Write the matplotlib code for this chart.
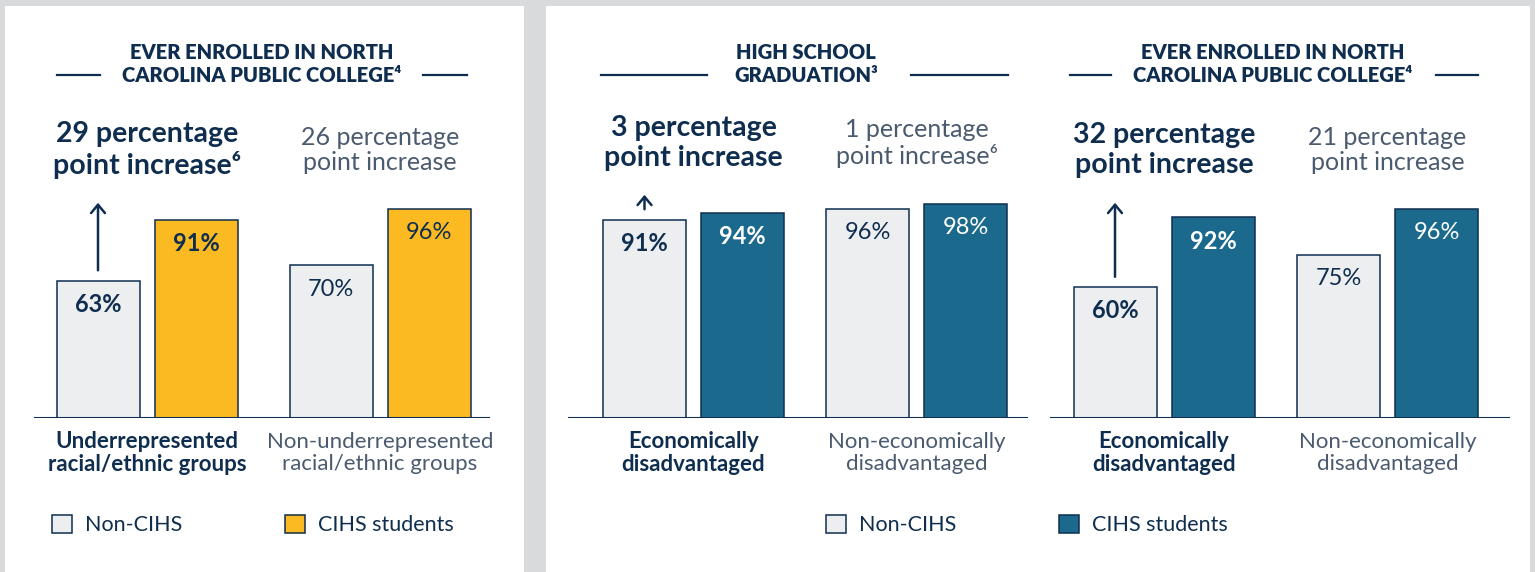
import numpy as np
import matplotlib.pyplot as plt
from matplotlib.patches import Rectangle, Patch
from matplotlib.lines import Line2D

# ---- data ----
race_groups = ['Underrepresented\nracial/ethnic groups', 'Non-underrepresented\nracial/ethnic groups']
race_non_cihs = [63, 70]
race_cihs = [91, 96]
race_increase = ['29 percentage\npoint increase\u2076', '26 percentage\npoint increase']

econ_groups = ['Economically\ndisadvantaged', 'Non-economically\ndisadvantaged']
grad_non_cihs = [91, 96]
grad_cihs = [94, 98]
grad_increase = ['3 percentage\npoint increase', '1 percentage\npoint increase\u2076']

college_non_cihs = [60, 75]
college_cihs = [92, 96]
college_increase = ['32 percentage\npoint increase', '21 percentage\npoint increase']

legend_labels = ['Non-CIHS', 'CIHS students']

# ---- style ----
W, H = 1535, 572
NAVY = '#0f2e4f'
GREY_TXT = '#4a5a6f'
LIGHT = '#eceef0'
GOLD = '#fbb922'
TEAL = '#1b6a8d'
BG = '#d9dadb'
FONT = ['Lato', 'DejaVu Sans']
plt.rcParams['font.family'] = FONT


def fx(x):
    return x / W


def fy(y):
    return 1 - y / H


fig = plt.figure(figsize=(W / 100, H / 100), dpi=100, facecolor=BG)

# white cards
for x0, x1 in [(5, 524), (546, 1530)]:
    fig.patches.append(Rectangle((fx(x0), 0), (x1 - x0) / W, fy(6), transform=fig.transFigure,
                                 facecolor='white', edgecolor='none', zorder=-5))

BASE_Y = 418   # baseline pixel row
TOP_Y = 200    # pixel row of 100 %
PX = (BASE_Y - TOP_Y) / 100


def panel(x0, x1, g0, g1, non, cihs, color, groups, increase, arrow_top, inc_y):
    d = g1 - g0
    ax = fig.add_axes([fx(x0), fy(BASE_Y), (x1 - x0) / W, (BASE_Y - TOP_Y) / H])
    ax.set_xlim((x0 - g0) / d, (x1 - g0) / d)
    ax.set_ylim(0, 100)
    ax.axis('off')
    x = np.arange(len(groups))
    off = 49 / d
    w = 83 / d
    ax.bar(x - off, non, width=w, color=LIGHT, edgecolor=NAVY, linewidth=1.1, zorder=2)
    ax.bar(x + off, cihs, width=w, color=color, edgecolor=NAVY, linewidth=1.1, zorder=2)
    ax.axhline(0, color=NAVY, lw=2.2, zorder=3)

    for i in range(len(groups)):
        weight = 'bold' if i == 0 else 'normal'
        ax.annotate(f'{non[i]}%', (x[i] - off, non[i]), xytext=(0, -17), textcoords='offset points',
                    ha='center', va='center', fontsize=17, color=NAVY, fontweight=weight)
        ctxt = NAVY if color == GOLD else 'white'
        ax.annotate(f'{cihs[i]}%', (x[i] + off, cihs[i]), xytext=(0, -17), textcoords='offset points',
                    ha='center', va='center', fontsize=17, color=ctxt, fontweight=weight)
        # category labels
        ax.text(x[i], -(453 - BASE_Y) / PX, groups[i], ha='center', va='center', fontsize=16,
                linespacing=1.15, color=NAVY if i == 0 else GREY_TXT, fontweight=weight,
                clip_on=False)
        # increase annotations
        ax.text(x[i], (BASE_Y - inc_y) / PX, increase[i], ha='center', va='center',
                fontsize=20.5 if i == 0 else 18, linespacing=1.15,
                color=NAVY if i == 0 else GREY_TXT, fontweight='bold' if i == 0 else 'normal',
                clip_on=False)

    # arrow over the first group's Non-CIHS bar
    ax.annotate('', xy=(x[0] - off, (BASE_Y - arrow_top) / PX), xytext=(x[0] - off, non[0] + 3.5),
                arrowprops=dict(arrowstyle='->,head_width=0.5,head_length=0.6', color=NAVY, lw=1.8),
                annotation_clip=False)
    return ax


panel(34, 490, 147, 380, race_non_cihs, race_cihs, GOLD, race_groups, race_increase, 200, 150)
panel(568, 1028, 693.5, 916.5, grad_non_cihs, grad_cihs, TEAL, econ_groups, grad_increase, 192, 143)
panel(1050, 1510, 1164, 1387.5, college_non_cihs, college_cihs, TEAL, econ_groups, college_increase, 200, 150)

# titles with side rules
titles = [
    (262, 'EVER ENROLLED IN NORTH\nCAROLINA PUBLIC COLLEGE\u2074', [(57, 100), (423, 467)]),
    (806, 'HIGH SCHOOL\nGRADUATION\u00b3', [(601, 707), (911, 1008)]),
    (1273, 'EVER ENROLLED IN NORTH\nCAROLINA PUBLIC COLLEGE\u2074', [(1070, 1111), (1436, 1478)]),
]
for cx, txt, rules in titles:
    fig.text(fx(cx), fy(64), txt, ha='center', va='center', fontsize=14.5, fontweight='heavy',
             color=NAVY, linespacing=1.2)
    for a, b in rules:
        fig.add_artist(Line2D([fx(a), fx(b)], [fy(75), fy(75)], color=NAVY, lw=1.6,
                              transform=fig.transFigure))

# legends
for left, color in [(52, GOLD), (826, TEAL)]:
    handles = [Patch(facecolor=LIGHT, edgecolor=NAVY, linewidth=1.1),
               Patch(facecolor=color, edgecolor=NAVY, linewidth=1.1)]
    fig.legend(handles, legend_labels, loc='center left', bbox_to_anchor=(fx(left), fy(525)),
               ncol=2, frameon=False, fontsize=15.5, handlelength=0.95, handleheight=0.95,
               handletextpad=0.6, columnspacing=4.75, borderpad=0, borderaxespad=0,
               labelcolor=NAVY)

fig.savefig('out.png', dpi=100, facecolor=BG)
